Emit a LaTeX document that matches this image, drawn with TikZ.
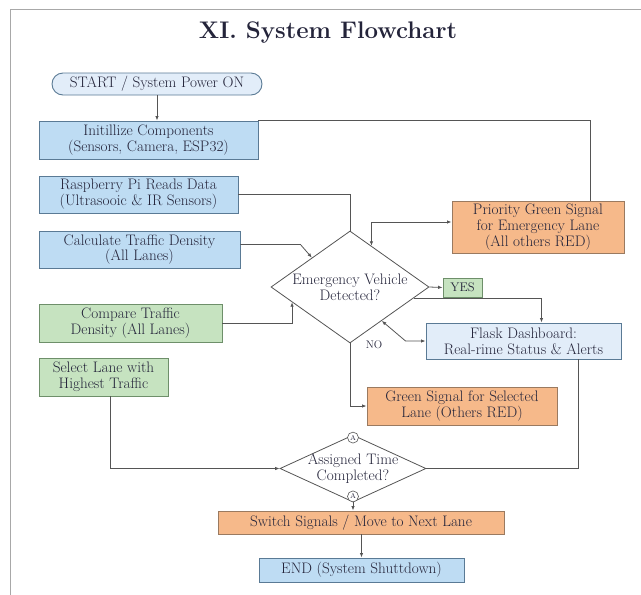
\documentclass[tikz,border=0pt]{standalone}
\usepackage{tikz}
\usetikzlibrary{arrows.meta, positioning, shapes.geometric, calc}

\definecolor{ink}{HTML}{24243A}
\definecolor{edge}{HTML}{555555}
\definecolor{frameg}{HTML}{A8A8A8}
\definecolor{blueF}{HTML}{BEDCF3}
\definecolor{blueD}{HTML}{5A7A95}
\definecolor{paleF}{HTML}{E2EDF9}
\definecolor{greenF}{HTML}{C6E3C0}
\definecolor{greenD}{HTML}{6E8F6A}
\definecolor{orangeF}{HTML}{F6B98A}
\definecolor{orangeD}{HTML}{9A7A60}

\begin{document}
\begin{tikzpicture}[
    x=1pt, y=-1pt,
    font=\fontsize{15.2}{15.8}\selectfont,
    box/.style={draw=blueD, line width=0.9pt, align=center, inner sep=1pt, text=ink},
    bluebox/.style={box, fill=blueF},
    palebox/.style={box, fill=paleF},
    greenbox/.style={box, draw=greenD, fill=greenF},
    orangebox/.style={box, draw=orangeD, fill=orangeF},
    decision/.style={diamond, draw=edge, line width=0.8pt, fill=white, inner sep=0pt},
    dtext/.style={align=center, text=ink},
    tag/.style={circle, draw=edge, line width=0.6pt, fill=white, inner sep=0pt, minimum size=11pt, font=\fontsize{7}{8}\selectfont, text=ink},
    link/.style={draw=edge, line width=0.8pt},
    arr/.style={link, -{Latex[length=4.5pt, width=3.5pt]}},
    dbl/.style={link, {Latex[length=4.5pt, width=3.5pt]}-{Latex[length=4.5pt, width=3.5pt]}},
]

% page and frame
\useasboundingbox (0,0) rectangle (641,595);
\draw[frameg, line width=1.8pt] (10.5,595) -- (10.5,9.5) -- (641,9.5);

% title
\node[font=\fontsize{24}{28}\selectfont\bfseries, text=ink] (title) at (328,33) {XI. System Flowchart};

% left column
\node[palebox, rounded corners=11pt, minimum width=210pt, minimum height=22pt] (start) at (157,84) {START / System Power ON};
\node[bluebox, minimum width=219pt, minimum height=38pt] (init) at (148.5,140) {Initillize Components\\(Sensors, Camera, ESP32)};
\node[bluebox, minimum width=199pt, minimum height=37pt] (reads) at (138.5,194.5) {Raspberry Pi Reads Data\\(Ultrasooic \& IR Sensors)};
\node[bluebox, minimum width=201pt, minimum height=37pt] (density) at (139.5,249.5) {Calculate Traffic Density\\(All Lanes)};
\node[greenbox, minimum width=183pt, minimum height=38pt] (compare) at (130.5,323) {Compare Traffic\\Density (All Lanes)};
\node[greenbox, minimum width=129pt, minimum height=38pt] (select) at (103.5,377) {Select Lane with\\Highest Traffic};

% decisions
\node[decision, minimum width=158pt, minimum height=112pt] (emerg) at (350,287) {};
\node[dtext] (emergtxt) at (emerg) {Emergency Vehicle\\Detected?};
\node[decision, minimum width=146pt, minimum height=67pt] (timer) at (353,468.5) {};
\node[dtext] (timertxt) at (timer) {Assigned Time\\Completed?};
\node[tag] (tagtop) at ($(timer.north)+(0,-3pt)$) {A};
\node[tag] (tagbot) at ($(timer.south)+(0,6pt)$) {A};

% right column
\node[orangebox, minimum width=172pt, minimum height=52pt] (priority) at (538,227) {Priority Green Signal\\for Emergency Lane\\(All others RED)};
\node[greenbox, minimum width=39pt, minimum height=19pt, font=\fontsize{12.5}{14}\selectfont] (yes) at (462.5,287.5) {YES};
\node[palebox, minimum width=195pt, minimum height=36pt] (flask) at (523.5,341) {Flask Dashboard:\\Real-rime Status \& Alerts};
\node[orangebox, minimum width=190pt, minimum height=38pt] (green) at (462,406) {Green Signal for Selected\\Lane (Others RED)};
\node[font=\fontsize{11}{12}\selectfont, text=ink] (nolbl) at (374,345) {NO};

% bottom
\node[orangebox, minimum width=286pt, minimum height=23pt] (switch) at (361,522.5) {Switch Signals / Move to Next Lane};
\node[bluebox, minimum width=205pt, minimum height=24pt] (end) at (361.5,570) {END (System Shuttdown)};

% connectors
\draw[arr] (start.south) -- (start.south |- init.north);
\draw[link] (init.north east) -| ([xshift=52pt]priority.north);
\draw[link] (reads.east) -| (emerg.north);
\draw[arr] ([yshift=5pt]density.east) -- ++(60pt,0) -- ($(emerg.west)!0.52!(emerg.north)$);
\draw[arr] (compare.east) -| ($(emerg.west)!0.27!(emerg.south)$);
\draw[dbl] ($(emerg.north)!0.27!(emerg.east)$) |- ([yshift=5pt]priority.west);
\draw[arr] (emerg.east) -- (yes.west);
\draw[arr] ($(emerg.east)!0.2!(emerg.south)$) -| ([xshift=18pt]flask.north);
\draw[dbl] ($(emerg.east)!0.6!(emerg.south)$) -- ($(flask.west)+(-20pt,0)$) -- (flask.west);
\draw[arr] (emerg.south) |- (green.west);
\draw[arr] ([xshift=7pt]select.south) |- (timer.west);
\draw[link] ([xshift=55pt]flask.south) |- (timer.east);
\draw[arr] (tagbot.south) -- (tagbot.south |- switch.north);
\draw[arr] (switch.south -| end.north) -- (end.north);

\end{tikzpicture}
\end{document}
